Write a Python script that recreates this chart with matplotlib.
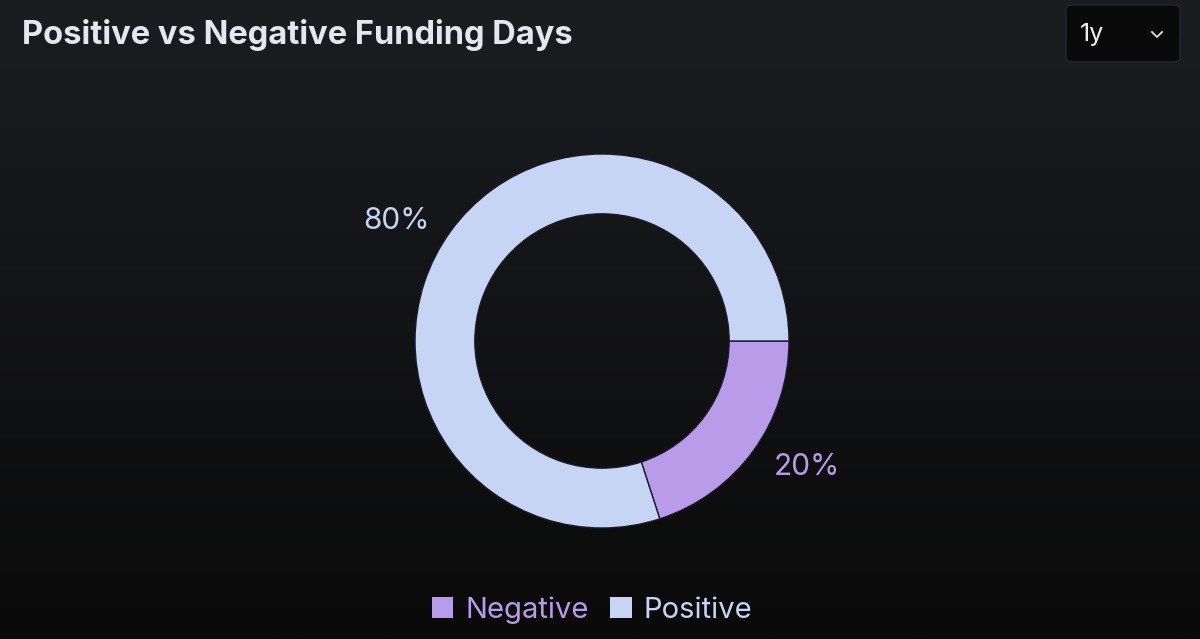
import matplotlib.pyplot as plt
import numpy as np
from matplotlib.patches import FancyBboxPatch
from matplotlib.colors import LinearSegmentedColormap

plt.rcParams['font.family'] = ['Inter', 'DejaVu Sans']

labels = ['Negative', 'Positive']
shares = [20, 80]
colors = ['#b89ce9', '#c5d5f3']
title = 'Positive vs Negative Funding Days'
period = '1y'

fig = plt.figure(figsize=(12, 6.39), dpi=100)

# background gradient
bg = fig.add_axes([0, 0, 1, 1])
grad = np.linspace(0, 1, 256).reshape(-1, 1)
cmap = LinearSegmentedColormap.from_list('bg', ['#1c1d21', '#0a0a0a'])
bg.imshow(grad, aspect='auto', cmap=cmap, extent=[0, 1, 0, 1], origin='upper')
bg.set_xlim(0, 1)
bg.set_ylim(0, 1)
bg.axis('off')

# title
fig.text(22 / 1200, 1 - 35 / 639, title, color='#e6e7ee', fontsize=23.5,
         fontweight='bold', va='center', ha='left')

# dropdown box
box = FancyBboxPatch((1066 / 1200, 1 - 62 / 639), 114 / 1200, 57 / 639,
                     boxstyle='round,pad=0,rounding_size=0.006',
                     transform=fig.transFigure, facecolor='#0a0a0b',
                     edgecolor='#26272b', linewidth=1)
fig.patches.append(box)
fig.text(1080 / 1200, 1 - 35 / 639, period, color='#f0f0f0', fontsize=18,
         va='center', ha='left')
fig.add_artist(plt.Line2D([1152 / 1200, 1157 / 1200, 1162 / 1200],
                          [1 - 32 / 639, 1 - 37 / 639, 1 - 32 / 639],
                          transform=fig.transFigure, color='#e0e0e0', lw=1.3))

# donut
cx, cy, r = 602, 341, 187
ax = fig.add_axes([(cx - r) / 1200, (639 - cy - r) / 639, 2 * r / 1200, 2 * r / 639])
wedges, texts, autotexts = ax.pie(
    shares, colors=colors, startangle=0, counterclock=False,
    wedgeprops=dict(width=0.32, edgecolor='#1a1a2a', linewidth=1),
    autopct='%d%%', pctdistance=1.28)
for w, t, c in zip(wedges, autotexts, colors):
    t.set_color(c)
    t.set_fontsize(21.5)
    # labels sit a little counter-clockwise of the slice middle
    ang = np.deg2rad((w.theta1 + w.theta2) / 2 + 5)
    t.set_position((1.28 * np.cos(ang), 1.28 * np.sin(ang) - 0.015))
ax.set_xlim(-1, 1)
ax.set_ylim(-1, 1)
ax.set_aspect('equal')
ax.axis('off')

leg = fig.legend(wedges, labels, loc='center', bbox_to_anchor=(592 / 1200, 1 - 610 / 639),
                 ncol=2, frameon=False, fontsize=21, labelcolor=colors,
                 handlelength=0.75, handleheight=0.75, handletextpad=0.4,
                 columnspacing=0.75)
for h in leg.legend_handles:
    h.set_edgecolor('none')

fig.savefig('out.png', dpi=100)
